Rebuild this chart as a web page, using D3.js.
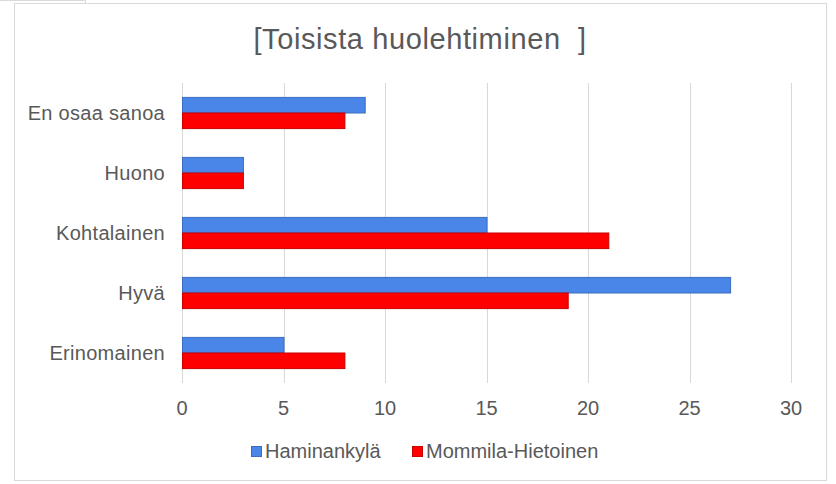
<!DOCTYPE html>
<html>
<head>
<meta charset="utf-8">
<script src="https://cdn.jsdelivr.net/npm/d3@7"></script>
<style>
  body { margin: 0; background: #fff; }
  text { font-family: "Liberation Sans", Arial, sans-serif; fill: #595959; }
</style>
</head>
<body>
<div id="chart"></div>
<script>
const categories = ["En osaa sanoa", "Huono", "Kohtalainen", "Hyvä", "Erinomainen"];
const seriesNames = ["Haminankylä", "Mommila-Hietoinen"];
const haminankyla = [9, 3, 15, 27, 5];
const mommila = [8, 3, 21, 19, 8];
const ticks = [0, 5, 10, 15, 20, 25, 30];

const fills = ["#4a86e8", "#ff0000"];
const strokes = ["#3b6cc0", "#c80000"];

const W = 836, H = 484;
const margin = { top: 83, right: 45, bottom: 101, left: 182 };
const width = W - margin.left - margin.right,
  height = H - margin.top - margin.bottom;

const svg = d3.select("#chart").append("svg")
  .attr("width", W).attr("height", H);

// outer frame
svg.append("rect")
  .attr("x", 14.5).attr("y", 3.5).attr("width", 812).attr("height", 477)
  .attr("fill", "#fff").attr("stroke", "#d9d9d9");
svg.append("path")
  .attr("d", "M0,0.5H85.5V3")
  .attr("fill", "none").attr("stroke", "#d9d9d9");

svg.append("text")
  .attr("x", 420).attr("y", 49)
  .attr("text-anchor", "middle")
  .style("font-size", "29px")
  .style("letter-spacing", "0.6px")
  .style("white-space", "pre")
  .text("[Toisista huolehtiminen  ]");

const g = svg.append("g")
  .attr("transform", "translate(" + margin.left + "," + margin.top + ")");

const x = d3.scaleLinear().domain([0, 30]).range([0, width]);
const y = d3.scaleBand().domain(categories).range([0, height]).paddingInner(0.48).paddingOuter(0.24);
const ySub = d3.scaleBand().domain([0, 1]).range([0, y.bandwidth()]);

// gridlines
g.selectAll(".grid")
  .data(ticks)
  .join("line")
  .attr("class", "grid")
  .attr("x1", d => Math.round(x(d)) + 0.5).attr("x2", d => Math.round(x(d)) + 0.5)
  .attr("y1", 0).attr("y2", height)
  .attr("stroke", "#d9d9d9");

// x tick labels
g.selectAll(".xtick")
  .data(ticks)
  .join("text")
  .attr("class", "xtick")
  .attr("x", d => x(d))
  .attr("y", height + 32)
  .attr("text-anchor", "middle")
  .style("font-size", "20px")
  .text(d => d);

// y labels
g.selectAll(".ylab")
  .data(categories)
  .join("text")
  .attr("class", "ylab")
  .attr("x", -17)
  .attr("y", d => y(d) + y.bandwidth() / 2)
  .attr("dy", "0.35em")
  .attr("text-anchor", "end")
  .style("font-size", "20px")
  .style("letter-spacing", "0.3px")
  .text(d => d);

const series = [haminankyla, mommila];
series.forEach((vals, s) => {
  g.selectAll(".bar" + s)
    .data(categories)
    .join("rect")
    .attr("class", "bar" + s)
    .attr("x", 0.5)
    .attr("y", d => y(d) + ySub(s))
    .attr("width", (d, i) => x(vals[i]))
    .attr("height", ySub.bandwidth())
    .attr("fill", fills[s])
    .attr("stroke", strokes[s])
    .attr("stroke-width", 1);
});

// legend
const legend = svg.append("g").attr("transform", "translate(251,458)");
const lx = [0, 161];
seriesNames.forEach((name, i) => {
  legend.append("rect")
    .attr("x", lx[i] + 0.5).attr("y", -11.5).attr("width", 10).attr("height", 10)
    .attr("fill", fills[i]).attr("stroke", strokes[i]);
  legend.append("text")
    .attr("x", lx[i] + 14).attr("y", 0)
    .style("font-size", "20px")
    .text(name);
});
</script>
</body>
</html>
